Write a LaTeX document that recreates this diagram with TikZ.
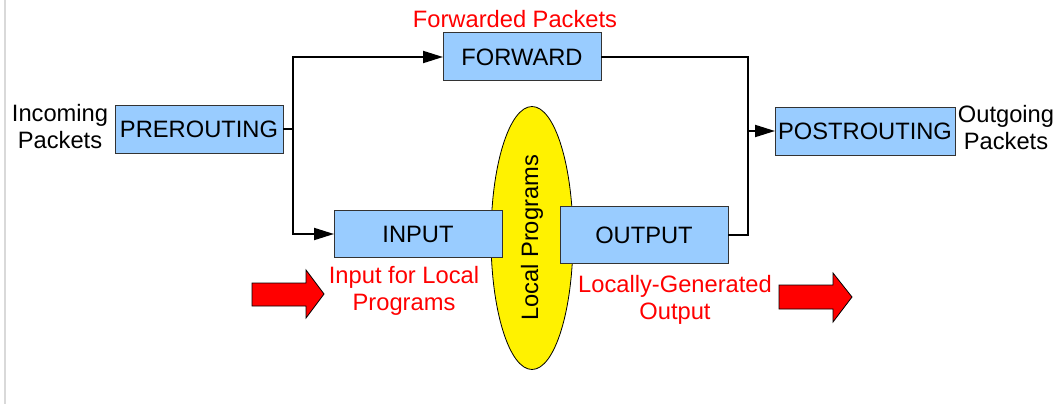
\documentclass[tikz,border=0pt]{standalone}
\usepackage{fontspec}
\setmainfont{Liberation Sans}
\usetikzlibrary{arrows.meta,shapes.geometric}
\definecolor{boxblue}{HTML}{99CCFF}
\definecolor{hookred}{HTML}{FF0000}
\begin{document}
\begin{tikzpicture}[x=1pt, y=-1pt, outer sep=0pt]
  \tikzstyle{chain}=[
    draw=black!80,
    rectangle,
    fill=boxblue,
    inner sep=0pt,
    minimum height=48pt,
    font=\fontsize{23.7}{27}\selectfont,
    line width=1pt
  ]
  \tikzstyle{plain} = [align=center, font=\fontsize{23.7}{27}\selectfont]
  \tikzstyle{note} = [plain, text=hookred]
  \tikzstyle{arrow} = [line width=2pt, -{Triangle[length=20pt,width=12pt]}, draw=black]
  \tikzstyle{wire} = [line width=2pt, draw=black]
  \tikzstyle{bigarrow} = [fill=hookred, draw=black, line width=0.8pt, line join=miter]

  \useasboundingbox (0,0) rectangle (1058,404);
  \draw[black!15, line width=2pt] (5,0) -- (5,404);

  % local programs, under the INPUT and OUTPUT boxes
  \node[ellipse, draw=black, fill=yellow, line width=0.8pt, rotate=90,
        minimum width=263pt, minimum height=82pt, inner sep=0pt,
        font=\fontsize{23.7}{27}\selectfont] (local) at (532,238) {Local Programs};

  \node[chain, minimum width=168pt] (prerouting) at (199,129) {PREROUTING};
  \node[chain, minimum width=158pt] (forward) at (522,57) {FORWARD};
  \node[chain, minimum width=168pt, minimum height=47pt] (input) at (418,234) {INPUT};
  \node[chain, minimum width=168pt, minimum height=57pt] (output) at (644,235) {OUTPUT};
  \node[chain, minimum width=180pt] (postrouting) at (865,131) {POSTROUTING};

  \node[plain] (incoming) at (60,127) {Incoming\\Packets};
  \node[plain] (outgoing) at (1006,128) {Outgoing\\Packets};
  \node[note] (forwarded) at (515,19) {Forwarded Packets};
  \node[note] (inlocal) at (404,291) {Input for Local\\Programs};
  \node[note] (outlocal) at (675,300) {Locally-Generated\\Output};

  \coordinate (split) at (293,129);
  \coordinate (merge) at (748,131);
  \draw[wire] (prerouting.east) -- (split);
  \draw[arrow] (split) |- (forward.west);
  \draw[arrow] (split) |- (input.west);
  \draw[wire] (forward.east) -| (merge);
  \draw[wire] (output.east) -| (merge);
  \draw[arrow] (merge) -- (postrouting.west);

  \draw[bigarrow] (252,283) -- (306,283) -- (306,270) -- (324,294)
    -- (306,318) -- (306,306) -- (252,306) -- cycle;
  \draw[bigarrow] (779,285) -- (833,285) -- (833,273) -- (852,297)
    -- (833,322) -- (833,309) -- (779,309) -- cycle;
\end{tikzpicture}
\end{document}
